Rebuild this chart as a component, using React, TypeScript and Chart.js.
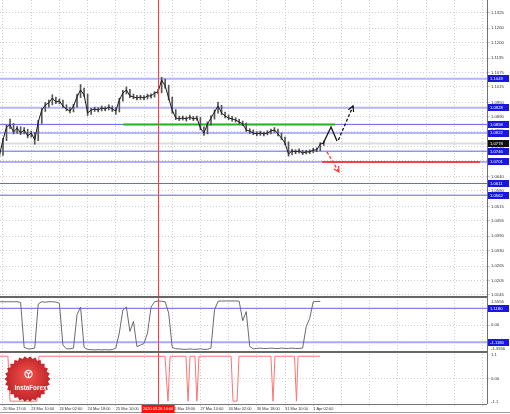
import React, { useEffect, useRef } from "react";
import { Chart, registerables } from "chart.js";
Chart.register(...registerables);

// ---- price data (one sample every 2 H1 bars, bar index 0 = 20 Mar 17:00) ----
const closes = [
  1.0730, 1.0793, 1.0847, 1.0856, 1.0826, 1.0843, 1.0822, 1.0835, 1.0810, 1.0822,
  1.0793, 1.0868, 1.0918, 1.0939, 1.0948, 1.0968, 1.0952, 1.0956, 1.0935, 1.0922,
  1.0914, 1.0935, 1.0973, 1.1002, 1.0981, 1.0906, 1.0918, 1.0922, 1.0918, 1.0927,
  1.0922, 1.0931, 1.0922, 1.0914, 1.0960, 1.0989, 1.1002, 1.0977, 1.0973, 1.0968,
  1.0973, 1.0968, 1.0977, 1.0977, 1.0989, 1.0994, 1.1044, 1.1019, 1.0968, 1.0918,
  1.0885, 1.0881, 1.0885, 1.0881, 1.0889, 1.0881, 1.0885, 1.0843, 1.0822, 1.0860,
  1.0885, 1.0910, 1.0935, 1.0906, 1.0893, 1.0885, 1.0881, 1.0876, 1.0868, 1.0860,
  1.0835, 1.0830, 1.0822, 1.0818, 1.0822, 1.0818, 1.0822, 1.0830, 1.0835, 1.0818,
  1.0801, 1.0780, 1.0734, 1.0747, 1.0743, 1.0747, 1.0738, 1.0743, 1.0743, 1.0751,
  1.0751, 1.0776, 1.0780,
];
const highs = [
  1.0745, 1.0800, 1.0855, 1.0880, 1.0862, 1.0850, 1.0848, 1.0845, 1.0838, 1.0830,
  1.0825, 1.0875, 1.0925, 1.0950, 1.0960, 1.0982, 1.0972, 1.0965, 1.0960, 1.0940,
  1.0928, 1.0942, 1.0985, 1.1025, 1.1010, 1.0985, 1.0925, 1.0930, 1.0928, 1.0935,
  1.0932, 1.0940, 1.0935, 1.0928, 1.0968, 1.1000, 1.1015, 1.1005, 1.0985, 1.0980,
  1.0980, 1.0978, 1.0985, 1.0986, 1.0995, 1.1005, 1.1055, 1.1048, 1.1022, 1.0972,
  1.0920, 1.0892, 1.0893, 1.0890, 1.0897, 1.0892, 1.0893, 1.0888, 1.0848, 1.0868,
  1.0895, 1.0918, 1.0950, 1.0938, 1.0910, 1.0898, 1.0892, 1.0886, 1.0880, 1.0872,
  1.0864, 1.0840, 1.0835, 1.0828, 1.0830, 1.0826, 1.0832, 1.0838, 1.0845, 1.0838,
  1.0822, 1.0805, 1.0785, 1.0755, 1.0752, 1.0756, 1.0750, 1.0750, 1.0752, 1.0758,
  1.0760, 1.0782, 1.0788,
];
const lows = [
  1.0722, 1.0728, 1.0790, 1.0840, 1.0818, 1.0820, 1.0815, 1.0818, 1.0802, 1.0805,
  1.0775, 1.0790, 1.0862, 1.0912, 1.0930, 1.0940, 1.0945, 1.0944, 1.0928, 1.0915,
  1.0906, 1.0910, 1.0930, 1.0970, 1.0975, 1.0895, 1.0900, 1.0912, 1.0910, 1.0914,
  1.0915, 1.0918, 1.0912, 1.0900, 1.0910, 1.0955, 1.0985, 1.0970, 1.0965, 1.0960,
  1.0962, 1.0960, 1.0964, 1.0968, 1.0972, 1.0985, 1.0990, 1.1010, 1.0960, 1.0905,
  1.0878, 1.0874, 1.0876, 1.0872, 1.0878, 1.0874, 1.0876, 1.0835, 1.0812, 1.0818,
  1.0855, 1.0880, 1.0905, 1.0898, 1.0885, 1.0878, 1.0872, 1.0868, 1.0860, 1.0852,
  1.0828, 1.0820, 1.0815, 1.0810, 1.0812, 1.0810, 1.0814, 1.0818, 1.0825, 1.0810,
  1.0795, 1.0772, 1.0725, 1.0730, 1.0735, 1.0738, 1.0732, 1.0735, 1.0736, 1.0740,
  1.0744, 1.0748, 1.0770,
];
const barTimes = closes.map((_, k) => -2 + 2 * k);

// ---- oscillator panel (same time samples) ----
const oscValues = [
  1.55, 1.55, 1.55, 1.55, 1.55, 1.55, 1.50, -1.45, -1.55, -1.55,
  -1.50, 1.40, 1.55, 1.52, 1.55, 1.55, 1.53, 1.45, -1.30, -1.55,
  -1.55, -1.50, 0.70, 1.20, -1.45, -1.60, -1.60, -1.62, -1.60, -1.62,
  -1.60, -1.62, -1.60, -1.50, -0.50, 1.00, 1.20, -0.40, 0.25, -1.40,
  -1.30, -1.20, -0.50, 1.20, 1.55, 1.60, 1.58, 1.55, 0.80, -1.45,
  -1.55, -1.55, -1.58, -1.58, -1.56, -1.58, -1.58, -1.55, -1.58, -1.58,
  -1.50, 1.00, 1.58, 1.60, 1.60, 1.60, 1.60, 1.60, 1.58, 0.30,
  0.90, -1.40, -1.55, -1.52, -1.50, -1.53, -1.52, -1.50, -1.52, -1.53,
  -1.50, -1.52, -1.52, -1.50, -1.53, -1.52, -1.50, -0.10, 0.45, 1.55,
  1.57, 1.57, null,
];
const oscTicks = [1.5556, 0, -1.5556];
const oscLevels = [1.118, -1.118];

// ---- signal panel ----
const sigTimes = [-1.7, 2.8, 4, 19.3, 20.4, 91.9, 93.6, 94.8, 103.8, 105, 106.1, 108.9, 110, 111.2, 129.4, 130.5, 132.8, 133.9, 152, 153.2, 154.3, 165.4, 166.5, 167.4, 179.9];
const sigValues = [1.05, 1.05, -1.05, -1.05, 1.05, 1.05, -1.05, 1.05, 1.05, -1.05, 1.05, 1.05, -1.05, 1.05, 1.05, -1.05, -1.05, 1.05, 1.05, -1.05, 1.05, 1.05, -1.05, 1.05, 1.05];
const sigTicks = [1.1, 0, -1.1];

// ---- axes ----
const priceTicks = [1.1325, 1.126, 1.12, 1.1135, 1.1075, 1.1015, 1.095, 1.089, 1.083, 1.0765, 1.0705, 1.064, 1.058, 1.0515, 1.0455, 1.039, 1.033, 1.0265, 1.0205, 1.0145];
const xTickTimes = [0, 16, 32, 48, 64, 80, 96, 112, 128, 144, 160, 176, 192, 208, 224, 240, 256, 272];
const xTickLabels = ["20 Mar 17:00", "23 Mar 10:00", "24 Mar 02:00", "24 Mar 18:00", "25 Mar 10:00", "26 Mar 02:00", "26 Mar 18:00", "27 Mar 10:00", "30 Mar 02:00", "30 Mar 18:00", "31 Mar 10:00", "1 Apr 02:00"];
const cursorTime = 88;
const cursorLabel = "2020.03.26 10:00";

// ---- levels & drawings ----
const wideLevels = [1.1049, 1.0928, 1.0822];
const thinLevels = [1.0858, 1.0746, 1.0701, 1.0611, 1.0562];
const currentPrice = 1.0778;
const greenSegment = [[68.3, 1.0858], [188.4, 1.0858]];
const redSegment = [[181, 1.0701], [270.6, 1.0701]];
const upSolidPath = [[181.5, 1.0776], [186.1, 1.0847], [189.5, 1.0789]];
const upDashedPath = [[190.3, 1.0793], [198.6, 1.0935]];
const downDashedPath = [[183.8, 1.0743], [190.6, 1.0659]];

const X_MIN = -1.7;
const X_MAX = 274.6;
const FONT = '"Liberation Sans", Arial, sans-serif';

const pts = (arr: number[][]) => arr.map(([x, y]) => ({ x, y }));
const hLine = (v: number) => [{ x: X_MIN, y: v }, { x: X_MAX, y: v }];

const overlay = {
  id: "mtOverlay",
  afterDatasetsDraw(chart: any) {
    const { ctx, chartArea: ca, scales } = chart;
    ctx.save();
    const cx = Math.round(scales.x.getPixelForValue(cursorTime)) + 0.5;
    ctx.strokeStyle = "#ff3b3b";
    ctx.lineWidth = 1;
    ctx.beginPath();
    ctx.moveTo(cx, ca.top);
    ctx.lineTo(cx, ca.bottom);
    ctx.stroke();
    chart.data.datasets.forEach((ds: any, i: number) => {
      if (!ds.arrowHead) return;
      const p = chart.getDatasetMeta(i).data;
      const a = p[p.length - 2], b = p[p.length - 1];
      const ang = Math.atan2(b.y - a.y, b.x - a.x);
      const L = 6;
      ctx.strokeStyle = ds.borderColor;
      ctx.lineWidth = 1.2;
      ctx.setLineDash([]);
      ctx.beginPath();
      ctx.moveTo(b.x + L * Math.cos(ang + 2.65), b.y + L * Math.sin(ang + 2.65));
      ctx.lineTo(b.x, b.y);
      ctx.lineTo(b.x + L * Math.cos(ang - 2.65), b.y + L * Math.sin(ang - 2.65));
      ctx.stroke();
    });
    ctx.restore();
  },
  afterDraw(chart: any) {
    const { ctx, chartArea: ca, scales } = chart;
    const { x: xs, y, y2, y3 } = scales;
    ctx.save();
    // frame
    ctx.strokeStyle = "#707070";
    ctx.lineWidth = 1;
    ctx.beginPath();
    ctx.moveTo(ca.right + 0.5, 0);
    ctx.lineTo(ca.right + 0.5, ca.bottom);
    ctx.stroke();
    ctx.lineWidth = 2;
    ctx.strokeStyle = "#666";
    [y2.top, y3.top].forEach((t: number) => {
      ctx.beginPath();
      ctx.moveTo(0, Math.round(t));
      ctx.lineTo(ca.right, Math.round(t));
      ctx.stroke();
    });
    ctx.lineWidth = 1;
    ctx.strokeStyle = "#777";
    ctx.beginPath();
    ctx.moveTo(0, Math.round(ca.bottom) + 0.5);
    ctx.lineTo(ca.right, Math.round(ca.bottom) + 0.5);
    ctx.stroke();
    ctx.strokeStyle = "#9a9a9a";
    ctx.beginPath();
    ctx.moveTo(0, 412.5);
    ctx.lineTo(510, 412.5);
    ctx.stroke();

    // price tags
    const tag = (yp: number, text: string, bg: string) => {
      const h = 7;
      ctx.fillStyle = bg;
      ctx.fillRect(ca.right + 1, Math.round(yp - h / 2), 21, h);
      ctx.fillStyle = "#fff";
      ctx.font = `4.2px ${FONT}`;
      ctx.textAlign = "left";
      ctx.textBaseline = "middle";
      ctx.fillText(text, ca.right + 3, yp + 0.3);
    };
    [...wideLevels, ...thinLevels].forEach((v) => tag(y.getPixelForValue(v), v.toFixed(4), "#1717e0"));
    tag(y.getPixelForValue(currentPrice), currentPrice.toFixed(4), "#111");
    oscLevels.forEach((v) => tag(y2.getPixelForValue(v), v.toFixed(4), "#1717e0"));

    // cursor time tag
    const cx = xs.getPixelForValue(cursorTime);
    ctx.fillStyle = "#ff1010";
    ctx.fillRect(cx - 16.5, ca.bottom + 1, 33, 8);
    ctx.fillStyle = "#fff";
    ctx.font = `3.9px ${FONT}`;
    ctx.textAlign = "center";
    ctx.textBaseline = "middle";
    ctx.fillText(cursorLabel, cx, ca.bottom + 5);

    // watermark
    const wx = 27.5, wy = 379, R = 23, r = 20.5, n = 26;
    ctx.beginPath();
    for (let i = 0; i < 2 * n; i++) {
      const a = (i * Math.PI) / n;
      const rr = i % 2 === 0 ? R : r;
      ctx.lineTo(wx + rr * Math.cos(a), wy + rr * Math.sin(a));
    }
    ctx.closePath();
    const g = ctx.createRadialGradient(wx, wy - 4, 2, wx, wy, R);
    g.addColorStop(0, "rgba(238,70,64,0.95)");
    g.addColorStop(1, "rgba(190,25,30,0.95)");
    ctx.fillStyle = g;
    ctx.fill();
    ctx.strokeStyle = "#fff";
    ctx.lineWidth = 1.1;
    ctx.beginPath();
    ctx.arc(wx + 1, wy - 5, 3.6, 0, Math.PI * 2);
    ctx.stroke();
    ctx.beginPath();
    ctx.moveTo(wx - 1, wy - 7);
    ctx.lineTo(wx + 1, wy - 5);
    ctx.lineTo(wx + 3, wy - 7);
    ctx.moveTo(wx + 1, wy - 5);
    ctx.lineTo(wx + 1, wy - 2);
    ctx.stroke();
    ctx.fillStyle = "#fff";
    ctx.font = `bold 6.3px ${FONT}`;
    ctx.textAlign = "center";
    ctx.textBaseline = "middle";
    ctx.fillText("InstaForex", wx + 3, wy + 9);
    ctx.restore();
  },
};

export default function App() {
  const ref = useRef<HTMLCanvasElement>(null);
  useEffect(() => {
    document.body.style.margin = "0";
    const canvas = ref.current;
    if (!canvas) return;
    const gridColor = "#cfcfcf";
    const zeroOnly = (c: any) => (c.tick && c.tick.value === 0 ? gridColor : "rgba(0,0,0,0)");
    const tickFont = { size: 4.2, family: FONT };
    const levelDs = (v: number, color: string, width: number) => ({
      type: "line",
      data: hLine(v),
      borderColor: color,
      borderWidth: width,
      pointRadius: 0,
      yAxisID: "y",
      order: 10,
    });
    const datasets: any[] = [
      ...wideLevels.map((v) => levelDs(v, "#b4b4ff", 2)),
      ...thinLevels.map((v) => levelDs(v, "#6262f2", 1)),
      levelDs(currentPrice, "#dcdcdc", 2),
      { type: "line", data: pts(greenSegment), borderColor: "#1fb51f", borderWidth: 2, pointRadius: 0, yAxisID: "y", order: 6 },
      { type: "line", data: pts(redSegment), borderColor: "#ee4646", borderWidth: 2, pointRadius: 0, yAxisID: "y", order: 6 },
      {
        type: "bar",
        data: closes.map((_, k) => ({ x: barTimes[k], y: [lows[k], highs[k]] })),
        backgroundColor: "#555",
        barThickness: 1,
        grouped: false,
        yAxisID: "y",
        order: 4,
      },
      {
        type: "line",
        data: closes.map((c, k) => ({ x: barTimes[k], y: c })),
        borderColor: "#1a1a1a",
        borderWidth: 1,
        pointRadius: 0,
        tension: 0,
        yAxisID: "y",
        order: 3,
      },
      { type: "line", data: pts(upSolidPath), borderColor: "#111", borderWidth: 1.3, pointRadius: 0, yAxisID: "y", order: 1 },
      { type: "line", data: pts(upDashedPath), borderColor: "#111", borderWidth: 1.3, borderDash: [3, 2], pointRadius: 0, yAxisID: "y", order: 1, arrowHead: true },
      { type: "line", data: pts(downDashedPath), borderColor: "#ff3030", borderWidth: 1.3, borderDash: [3, 2], pointRadius: 0, yAxisID: "y", order: 1, arrowHead: true },
      ...oscLevels.map((v, i) => ({
        type: "line",
        data: [{ x: X_MIN, y: v }, { x: X_MAX, y: v }],
        borderColor: i === 0 ? "#6262f2" : "#a8a8ff",
        borderWidth: i === 0 ? 1 : 2,
        pointRadius: 0,
        yAxisID: "y2",
        order: 10,
      })),
      {
        type: "line",
        data: oscValues.map((v, k) => ({ x: barTimes[k], y: v })),
        borderColor: "#6a6a6a",
        borderWidth: 1,
        pointRadius: 0,
        tension: 0,
        yAxisID: "y2",
        order: 2,
      },
      {
        type: "line",
        data: sigValues.map((v, k) => ({ x: sigTimes[k], y: v })),
        borderColor: "#ff7272",
        borderWidth: 1,
        pointRadius: 0,
        tension: 0,
        yAxisID: "y3",
        order: 2,
      },
    ];

    const noPad = (s: any) => {
      s.paddingTop = 0;
      s.paddingBottom = 0;
      s.paddingLeft = 0;
      s.paddingRight = 0;
    };
    const yCommon = {
      type: "linear",
      position: "right",
      stack: "panels",
      offset: false,
      afterFit: (s: any) => {
        s.width = 23;
        noPad(s);
      },
    };

    const chart = new Chart(canvas, {
      type: "bar",
      data: { datasets },
      options: {
        animation: false,
        responsive: false,
        maintainAspectRatio: false,
        devicePixelRatio: 1,
        layout: { padding: 0 },
        plugins: { legend: { display: false }, tooltip: { enabled: false } },
        events: [],
        scales: {
          x: {
            type: "linear",
            position: "bottom",
            min: X_MIN,
            max: X_MAX,
            offset: false,
            afterBuildTicks: (axis: any) => {
              axis.ticks = xTickTimes.map((v) => ({ value: v }));
            },
            afterFit: (s: any) => {
              s.height = 10;
              noPad(s);
            },
            ticks: {
              autoSkip: false,
              maxRotation: 0,
              minRotation: 0,
              align: "start",
              padding: 1,
              color: "#333",
              font: { size: 3.9, family: FONT },
              callback: (_v: any, i: number) => xTickLabels[i] ?? "",
            },
            grid: { color: gridColor, lineWidth: 1, tickLength: 2, offset: false },
            border: { display: false, dash: [1, 2] },
          },
          y: {
            ...yCommon,
            stackWeight: 297,
            min: 1.01364,
            max: 1.13781,
            afterBuildTicks: (axis: any) => {
              axis.ticks = priceTicks.map((v) => ({ value: v }));
            },
            ticks: { autoSkip: false, padding: 1, color: "#333", font: tickFont, callback: (v: any) => Number(v).toFixed(4) },
            grid: { color: gridColor, lineWidth: 1, tickLength: 3 },
            border: { display: false, dash: [1, 2] },
          },
          y2: {
            ...yCommon,
            stackWeight: 55,
            min: -1.757,
            max: 1.862,
            afterBuildTicks: (axis: any) => {
              axis.ticks = oscTicks.map((v) => ({ value: v }));
            },
            ticks: { autoSkip: false, padding: 1, color: "#333", font: tickFont, callback: (v: any) => (Number(v) === 0 ? "0.00" : Number(v).toFixed(4)) },
            grid: { color: zeroOnly, lineWidth: 1, tickLength: 3 },
            border: { display: false, dash: [1, 2] },
          },
          y3: {
            ...yCommon,
            stackWeight: 52,
            min: -1.182,
            max: 1.248,
            afterBuildTicks: (axis: any) => {
              axis.ticks = sigTicks.map((v) => ({ value: v }));
            },
            ticks: { autoSkip: false, padding: 1, color: "#333", font: tickFont, callback: (v: any) => (Number(v) === 0 ? "0.00" : Number(v).toFixed(1)) },
            grid: { color: zeroOnly, lineWidth: 1, tickLength: 3 },
            border: { display: false, dash: [1, 2] },
          },
        },
      } as any,
      plugins: [overlay],
    } as any);
    return () => chart.destroy();
  }, []);

  return (
    <div style={{ position: "fixed", left: 0, top: 0, width: 510, height: 414, background: "#fff" }}>
      <canvas ref={ref} width={510} height={414} style={{ display: "block", width: 510, height: 414 }} />
    </div>
  );
}
